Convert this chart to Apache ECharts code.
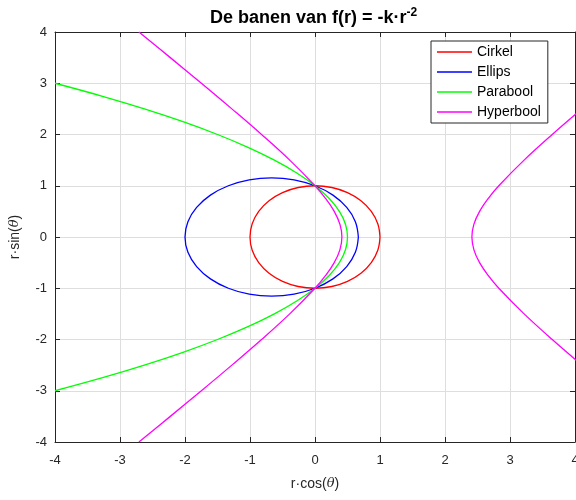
<!DOCTYPE html>
<html>
<head>
<meta charset="utf-8">
<script src="https://cdn.jsdelivr.net/npm/echarts@6/dist/echarts.min.js"></script>
<style>html,body{margin:0;padding:0;background:#fff;overflow:hidden}#c{position:absolute;left:0;top:0;width:576px;height:500px}</style>
</head>
<body>
<div id="c"></div>
<script>
const xTicks = [-4, -3, -2, -1, 0, 1, 2, 3, 4];
const yTicks = [-4, -3, -2, -1, 0, 1, 2, 3, 4];
const seriesNames = ['Cirkel', 'Ellips', 'Parabool', 'Hyperbool'];

const cirkel = [[1,0],[0.966,0.259],[0.866,0.5],[0.707,0.707],[0.5,0.866],[0.259,0.966],[0,1],[-0.259,0.966],[-0.5,0.866],[-0.707,0.707],[-0.866,0.5],[-0.966,0.259],[-1,0],[-0.966,-0.259],[-0.866,-0.5],[-0.707,-0.707],[-0.5,-0.866],[-0.259,-0.966],[0,-1],[0.259,-0.966],[0.5,-0.866],[0.707,-0.707],[0.866,-0.5],[0.966,-0.259],[1,0]];
const ellips = [[0.667,0],[0.621,0.299],[0.488,0.577],[0.276,0.817],[0,1],[-0.322,1.116],[-0.667,1.155],[-1.012,1.116],[-1.333,1],[-1.609,0.817],[-1.821,0.577],[-1.955,0.299],[-2,0],[-1.955,-0.299],[-1.821,-0.577],[-1.609,-0.817],[-1.333,-1],[-1.012,-1.116],[-0.667,-1.155],[-0.322,-1.116],[0,-1],[0.276,-0.817],[0.488,-0.577],[0.621,-0.299],[0.667,0]];
const parabool = [[-4,3],[-3.281,2.75],[-2.625,2.5],[-2.031,2.25],[-1.5,2],[-1.031,1.75],[-0.625,1.5],[-0.281,1.25],[0,1],[0.219,0.75],[0.375,0.5],[0.469,0.25],[0.5,0],[0.469,-0.25],[0.375,-0.5],[0.219,-0.75],[0,-1],[-0.281,-1.25],[-0.625,-1.5],[-1.031,-1.75],[-1.5,-2],[-2.031,-2.25],[-2.625,-2.5],[-3.281,-2.75],[-4,-3]];
const hyperboolLinks = [[-2.709,4],[-2.226,3.5],[-1.748,3],[-1.279,2.5],[-0.822,2],[-0.389,1.5],[0,1],[0.164,0.75],[0.296,0.5],[0.383,0.25],[0.414,0],[0.383,-0.25],[0.296,-0.5],[0.164,-0.75],[0,-1],[-0.389,-1.5],[-0.822,-2],[-1.279,-2.5],[-1.748,-3],[-2.226,-3.5],[-2.709,-4]];
const hyperboolRechts = [[4.107,2.5],[3.650,2],[3.217,1.5],[2.828,1],[2.664,0.75],[2.532,0.5],[2.445,0.25],[2.414,0],[2.445,-0.25],[2.532,-0.5],[2.664,-0.75],[2.828,-1],[3.217,-1.5],[3.650,-2],[4.107,-2.5]];

const colors = ['#ff0000', '#0000ff', '#00ff00', '#ff00ff'];
const FONT = 'Liberation Sans, Arial, sans-serif';
const AX = '#262626';

function lineSeries(name, data, color) {
  return {
    name: name, type: 'line', data: data, smooth: 0.4, symbol: 'none',
    lineStyle: { color: color, width: 1.3 }, itemStyle: { color: color },
    clip: true, animation: false, z: 3
  };
}

const richI = { i: { fontStyle: 'italic', fontFamily: 'DejaVu Serif', fontSize: 13, color: AX } };
const xMain = {
  type: 'value', min: -4, max: 4, interval: 1, position: 'bottom',
  name: 'r·cos({i|θ})', nameLocation: 'middle', nameGap: 35,
  nameTextStyle: { fontFamily: FONT, fontSize: 14, color: AX, rich: richI },
  axisLine: { show: true, onZero: false, lineStyle: { color: AX, width: 1 } },
  axisTick: { show: true, inside: true, length: 5, lineStyle: { color: AX } },
  axisLabel: { fontFamily: FONT, fontSize: 13, color: AX, margin: 12 },
  splitLine: { show: true, lineStyle: { color: '#dedede', width: 1 } }
};
const yMain = {
  type: 'value', min: -4, max: 4, interval: 1, position: 'left',
  name: 'r·sin({i|θ})', nameLocation: 'middle', nameGap: 33, nameRotate: 90,
  nameTextStyle: { fontFamily: FONT, fontSize: 14, color: AX, rich: richI },
  axisLine: { show: true, onZero: false, lineStyle: { color: AX, width: 1 } },
  axisTick: { show: true, inside: true, length: 5, lineStyle: { color: AX } },
  axisLabel: { fontFamily: FONT, fontSize: 13, color: AX, margin: 8 },
  splitLine: { show: true, lineStyle: { color: '#dedede', width: 1 } }
};

const chart = echarts.init(document.getElementById('c'), null, { renderer: 'canvas', width: 576, height: 500 });
chart.setOption({
  animation: false,
  backgroundColor: '#ffffff',
  title: {
    text: 'De banen van f(r) = -k·r{sup|-2}',
    left: 205, top: 2,
    textStyle: { fontFamily: FONT, fontSize: 18, fontWeight: 'bold', color: '#000',
      rich: { sup: { fontFamily: FONT, fontSize: 12, fontWeight: 'bold', color: '#000', padding: [0, 0, 10, 0] } } }
  },
  legend: {
    orient: 'vertical', left: 431, top: 41,
    padding: [3, 7, 3, 6], itemGap: 4,
    itemWidth: 35, itemHeight: 1.5, icon: 'rect',
    borderColor: AX, borderWidth: 1, backgroundColor: '#ffffff',
    textStyle: { fontFamily: FONT, fontSize: 14, color: '#000', lineHeight: 16 },
    data: seriesNames
  },
  grid: { left: 55, top: 32, right: 1, bottom: 58, containLabel: false, outerBoundsMode: 'none' },
  xAxis: [xMain, {
    type: 'value', min: -4, max: 4, interval: 1, position: 'top',
    axisLine: { show: true, onZero: false, lineStyle: { color: AX } },
    axisTick: { show: true, inside: true, length: 5, lineStyle: { color: AX } },
    axisLabel: { show: false }, splitLine: { show: false }
  }],
  yAxis: [yMain, {
    type: 'value', min: -4, max: 4, interval: 1, position: 'right',
    axisLine: { show: true, onZero: false, lineStyle: { color: AX } },
    axisTick: { show: true, inside: true, length: 5, lineStyle: { color: AX } },
    axisLabel: { show: false }, splitLine: { show: false }
  }],
  series: [
    lineSeries(seriesNames[0], cirkel, colors[0]),
    lineSeries(seriesNames[1], ellips, colors[1]),
    lineSeries(seriesNames[2], parabool, colors[2]),
    lineSeries(seriesNames[3], hyperboolLinks, colors[3]),
    lineSeries(seriesNames[3], hyperboolRechts, colors[3])
  ]
});
</script>
</body>
</html>
